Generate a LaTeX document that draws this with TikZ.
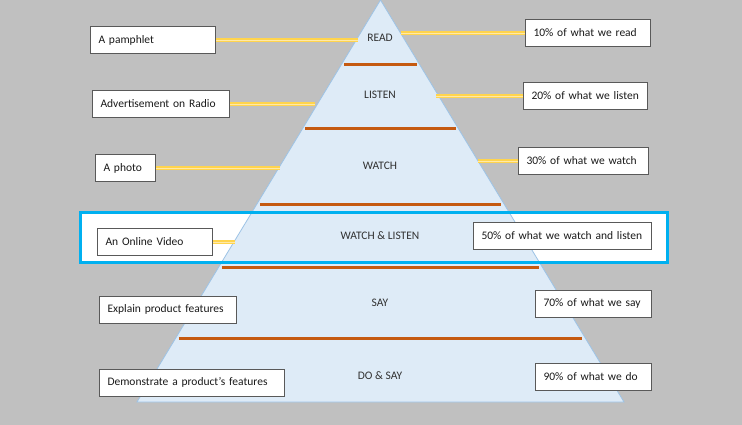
\documentclass[tikz,border=0pt]{standalone}
\usepackage{fontspec}
\setmainfont{Carlito}
\usetikzlibrary{calc}
\definecolor{SlideGray}{HTML}{C0C0C0}
\definecolor{PyrFill}{HTML}{DEEBF7}
\definecolor{PyrEdge}{HTML}{9DC3E6}
\definecolor{LevelOrange}{HTML}{C55A11}
\definecolor{LinkYellow}{HTML}{FFD44D}
\definecolor{LinkLight}{HTML}{FFE9A8}
\definecolor{FocusBlue}{HTML}{00B0F0}
\definecolor{BoxEdge}{HTML}{595959}
\definecolor{TextDark}{HTML}{1A1A1A}
\tikzset{
  infobox/.style={draw=BoxEdge, fill=white, line width=1pt, anchor=west,
                  align=left, text width=#1, inner xsep=8pt, inner ysep=0pt,
                  minimum height=27pt, font=\fontsize{11.5}{13}\selectfont\color{TextDark}},
  levellabel/.style={font=\fontsize{11.5}{13}\selectfont\color{TextDark!90}},
  levelline/.style={draw=LevelOrange, line width=3pt},
  link/.style={draw=LinkYellow, line width=1.5pt, double=LinkLight, double distance=0.9pt},
}
\begin{document}
\begin{tikzpicture}[x=1pt,y=-1pt]
  \fill[SlideGray] (0,0) rectangle (742,425);
  \useasboundingbox (0,0) rectangle (742,425);

  % highlighted band behind the pyramid
  \fill[white] (80,212) rectangle (667,262);

  % pyramid
  \coordinate (apex) at (380.5,0);
  \coordinate (baseL) at (137,402);
  \coordinate (baseR) at (624,402);
  \filldraw[fill=PyrFill, draw=PyrEdge, line width=0.8pt] (apex) -- (baseR) -- (baseL) -- cycle;
  \foreach \y in {65,129,204,267,338}
    \draw[levelline] ({380.5-0.6057*\y+3},\y) -- ({380.5+0.6057*\y-3},\y);

  \draw[FocusBlue, line width=3pt] (80,212) rectangle (667,262);

  \node[levellabel] (read) at (380,38) {READ};
  \node[levellabel] (listen) at (380,95) {LISTEN};
  \node[levellabel] (watch) at (380,166) {WATCH};
  \node[levellabel] (watchlisten) at (380,236) {WATCH \& LISTEN};
  \node[levellabel] (say) at (380,303) {SAY};
  \node[levellabel] (dosay) at (380,376) {DO \& SAY};

  % examples
  \node[infobox=109pt] (pamphlet) at (90,40) {A pamphlet};
  \node[infobox=121pt] (radio) at (92,104) {Advertisement on Radio};
  \node[infobox=44pt] (photo) at (95,168) {A photo};
  \node[infobox=99pt] (video) at (97,242) {An Online Video};
  \node[infobox=121pt] (explain) at (99,309.5) {Explain product features};
  \node[infobox=169pt] (demo) at (99,382.5) {Demonstrate a product's features};

  % retention
  \node[infobox=109pt] (pctread) at (525,33) {10\% of what we read};
  \node[infobox=108pt] (pctlisten) at (523,96) {20\% of what we listen};
  \node[infobox=114pt] (pctwatch) at (518,161) {30\% of what we watch};
  \node[infobox=162pt] (pctwl) at (473,235.5) {50\% of what we watch and listen};
  \node[infobox=100pt] (pctsay) at (535,303.5) {70\% of what we say};
  \node[infobox=100pt] (pctdo) at (535,376.5) {90\% of what we do};

  \coordinate (pamphletEnd) at (358,40);
  \coordinate (radioEnd) at (315,104);
  \coordinate (photoEnd) at (280,168);
  \coordinate (videoEnd) at (235,242);
  \coordinate (readEnd) at (401,33);
  \coordinate (listenEnd) at (436,96);
  \coordinate (watchEnd) at (478,161);
  \draw[link] (pamphlet) -- (pamphletEnd);
  \draw[link] (radio) -- (radioEnd);
  \draw[link] (photo) -- (photoEnd);
  \draw[link] (video) -- (videoEnd);
  \draw[link] (pctread) -- (readEnd);
  \draw[link] (pctlisten) -- (listenEnd);
  \draw[link] (pctwatch) -- (watchEnd);
\end{tikzpicture}
\end{document}
